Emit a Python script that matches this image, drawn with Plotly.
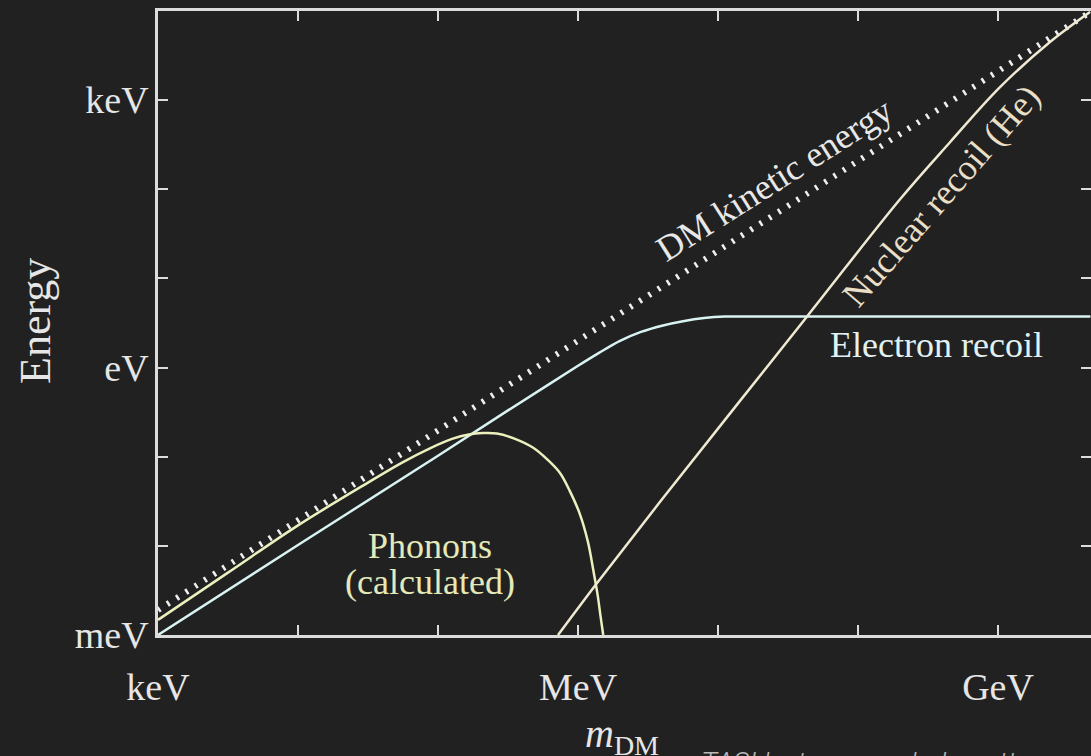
import plotly.graph_objects as go

# ---- data (log10 of value in eV) ----
# DM kinetic energy
ke_log_m = [3.0, 9.66]
ke_log_e = [-2.72, 3.99]

# Electron recoil
er_log_m = [3.0, 4.0, 5.0, 5.5, 5.8, 6.0, 6.15, 6.3, 6.45, 6.6, 6.75, 6.9, 7.05, 7.3, 9.66]
er_log_e = [-3.0, -1.99, -0.99, -0.48, -0.18, 0.02, 0.165, 0.30, 0.40, 0.47, 0.52, 0.555, 0.572, 0.573, 0.573]

# Phonons (calculated)
ph_log_m = [3.0, 3.5, 4.0, 4.5, 4.75, 4.95, 5.1, 5.22, 5.32, 5.42, 5.55, 5.68, 5.78, 5.87,
            5.94, 6.01, 6.07, 6.11, 6.14, 6.16, 6.18]
ph_log_e = [-2.83, -2.30, -1.77, -1.29, -1.06, -0.90, -0.80, -0.75, -0.735, -0.74, -0.80,
            -0.90, -1.03, -1.18, -1.38, -1.63, -1.95, -2.28, -2.55, -2.78, -3.0]

# Nuclear recoil (He)
nr_log_m = [5.857, 6.136, 6.586, 7.636, 8.3, 8.657, 9.014, 9.371, 9.657]
nr_log_e = [-3.0, -2.416, -1.506, 0.573, 1.888, 2.528, 3.146, 3.652, 3.989]

# axis ticks
x_tick_exp = [3, 4, 5, 6, 7, 8, 9]
x_tick_text = ["keV", "", "", "MeV", "", "", "GeV"]
y_tick_exp = [-3, -2, -1, 0, 1, 2, 3]
y_tick_text = ["meV", "", "", "eV", "", "", "keV"]

X_RANGE = [3.0, 9.664]
Y_RANGE = [-3.0, 4.0]

BG = "#212121"
AXIS_COL = "#dcdcdc"
SERIF = "Liberation Serif"


def pw(vals):
    return [10 ** v for v in vals]


fig = go.Figure()

fig.add_trace(go.Scatter(
    x=pw(ke_log_m), y=pw(ke_log_e), mode="lines",
    line=dict(color="#efefef", width=6, dash="2.5px,8.5px"),
    hoverinfo="skip", showlegend=False))

fig.add_trace(go.Scatter(
    x=pw(er_log_m), y=pw(er_log_e), mode="lines", line_shape="spline",
    line=dict(color="#d9f2f2", width=2.5),
    hoverinfo="skip", showlegend=False))

fig.add_trace(go.Scatter(
    x=pw(ph_log_m), y=pw(ph_log_e), mode="lines", line_shape="spline",
    line=dict(color="#ecefbe", width=2.5),
    hoverinfo="skip", showlegend=False))

fig.add_trace(go.Scatter(
    x=pw(nr_log_m), y=pw(nr_log_e), mode="lines", line_shape="spline",
    line=dict(color="#efe9d2", width=2.5),
    hoverinfo="skip", showlegend=False))

axis_common = dict(
    type="log", ticks="inside", ticklen=10, tickwidth=2, tickcolor=AXIS_COL,
    showgrid=False, zeroline=False,
)

fig.update_layout(
    width=1091, height=756,
    margin=dict(l=158, r=0, t=11, b=121),
    paper_bgcolor=BG, plot_bgcolor=BG,
    showlegend=False,
    xaxis=dict(
        **axis_common, range=X_RANGE,
        tickvals=pw(x_tick_exp), ticktext=x_tick_text,
        showline=True, linecolor=AXIS_COL, linewidth=2.5,
        tickfont=dict(family=SERIF, size=38, color="#e6e6e6"),
        ticklabelstandoff=17,
    ),
    xaxis2=dict(
        **axis_common, range=X_RANGE, overlaying="x", side="top",
        tickvals=pw(x_tick_exp), showticklabels=False,
        showline=True, linecolor=AXIS_COL, linewidth=2.5,
    ),
    yaxis=dict(
        **axis_common, range=Y_RANGE,
        tickvals=pw(y_tick_exp), ticktext=y_tick_text,
        showline=True, linecolor=AXIS_COL, linewidth=2.5,
        tickfont=dict(family=SERIF, size=38, color="#e6e6e6"),
        ticklabelstandoff=-1,
    ),
    yaxis2=dict(
        **axis_common, range=Y_RANGE, overlaying="y", side="right",
        tickvals=pw(y_tick_exp), showticklabels=False, showline=False,
    ),
)

# empty traces so the mirrored top / right axes are drawn
fig.add_trace(go.Scatter(x=[None], y=[None], xaxis="x2", yaxis="y",
                         showlegend=False, hoverinfo="skip"))
fig.add_trace(go.Scatter(x=[None], y=[None], xaxis="x", yaxis="y2",
                         showlegend=False, hoverinfo="skip"))

ann = [
    dict(text="DM kinetic energy", x=7.4, y=2.1, textangle=-32.4,
         font=dict(family=SERIF, size=36, color="#e8e8e8")),
    dict(text="Nuclear recoil (He)", x=8.59, y=1.93, textangle=-49,
         font=dict(family=SERIF, size=36, color="#e9dec6")),
    dict(text="Electron recoil", x=8.557, y=0.25,
         font=dict(family=SERIF, size=36, color="#e2f1f1")),
    dict(text="Phonons", x=4.94, y=-2.0,
         font=dict(family=SERIF, size=36, color="#e4e9b9")),
    dict(text="(calculated)", x=4.94, y=-2.40,
         font=dict(family=SERIF, size=36, color="#e4e9b9")),
]
for a in ann:
    fig.add_annotation(xref="x", yref="y", showarrow=False,
                       xanchor="center", yanchor="middle", **a)

# axis titles
fig.add_annotation(text="Energy", xref="paper", yref="paper", x=-0.132, y=0.503,
                   textangle=-90, showarrow=False, xanchor="center", yanchor="middle",
                   font=dict(family=SERIF, size=44, color="#e6e6e6"))
fig.add_annotation(text="<i>m</i><sub>DM</sub>", xref="paper", yref="paper",
                   x=0.455, y=-0.118, showarrow=False, xanchor="left", yanchor="top",
                   font=dict(family=SERIF, size=40, color="#e6e6e6"))
fig.add_annotation(text="TASI lectures on dark matter", xref="paper", yref="paper",
                   x=0.580, y=-0.175, showarrow=False, xanchor="left", yanchor="top",
                   font=dict(family="Roboto", size=28, color="#b8b8b8",
                             style="italic", weight=300))

fig.write_html("out.html")
